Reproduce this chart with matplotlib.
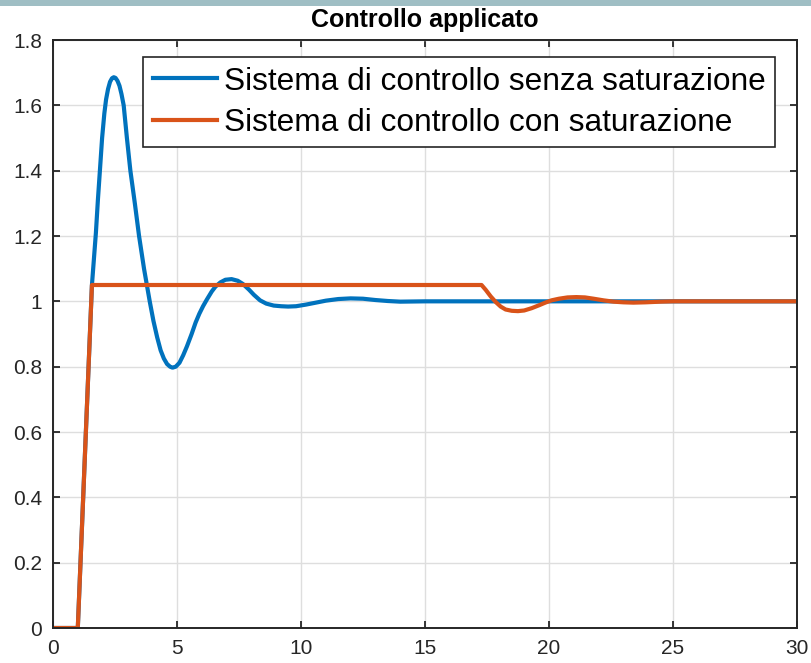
#!/usr/bin/env python3
"""Applied control signal: with vs. without actuator saturation."""

import matplotlib

matplotlib.use("Agg")
import matplotlib.pyplot as plt
from matplotlib.patches import Rectangle

# Values (time in s, control signal)
t_free = [0, 1.0, 1.57, 1.65, 1.73, 1.81, 1.9, 1.98, 2.07, 2.14, 2.22, 2.3,
          2.38, 2.45, 2.52, 2.6, 2.68, 2.76, 2.85, 2.98, 3.12, 3.3, 3.47,
          3.67, 3.9, 4.05, 4.2, 4.34, 4.47, 4.6, 4.72, 4.82, 4.95, 5.1,
          5.25, 5.4, 5.59, 5.75, 5.9, 6.05, 6.2, 6.4, 6.55, 6.75, 6.95, 7.2,
          7.45, 7.66, 7.9, 8.1, 8.35, 8.6, 8.9, 9.2, 9.48, 9.8, 10.2, 10.6,
          11.0, 11.5, 12.0, 12.5, 13.0, 13.5, 14.0, 15.0, 17.0, 20.0, 30.0]
u_free = [0, 0, 1.05, 1.13, 1.21, 1.31, 1.41, 1.5, 1.575, 1.618, 1.65,
          1.672, 1.683, 1.686, 1.684, 1.675, 1.66, 1.635, 1.6, 1.5, 1.4,
          1.3, 1.2, 1.1, 1.0, 0.94, 0.89, 0.85, 0.825, 0.808, 0.8, 0.797,
          0.8, 0.812, 0.835, 0.862, 0.9, 0.935, 0.962, 0.985, 1.005, 1.03,
          1.045, 1.058, 1.066, 1.068, 1.063, 1.053, 1.036, 1.02, 1.003,
          0.993, 0.987, 0.985, 0.984, 0.985, 0.99, 0.996, 1.002, 1.007,
          1.009, 1.008, 1.004, 1.001, 0.999, 1.0, 1.0, 1.0, 1.0]

t_sat = [0, 1.0, 1.57, 17.28, 17.45, 17.65, 17.85, 18.05, 18.25, 18.5,
         18.75, 19.0, 19.3, 19.6, 19.85, 20.1, 20.4, 20.75, 21.1, 21.45,
         21.8, 22.2, 22.6, 23.0, 23.4, 23.9, 24.5, 25.0, 30.0]
u_sat = [0, 0, 1.05, 1.05, 1.035, 1.015, 0.998, 0.984, 0.975, 0.971,
         0.970, 0.972, 0.979, 0.988, 0.996, 1.003, 1.008, 1.012, 1.013,
         1.012, 1.008, 1.003, 0.999, 0.997, 0.996, 0.997, 0.999, 1.0, 1.0]

labels = ["Sistema di controllo senza saturazione",
          "Sistema di controllo con saturazione"]
x_ticks = [0, 5, 10, 15, 20, 25, 30]
y_ticks = [0, 0.2, 0.4, 0.6, 0.8, 1, 1.2, 1.4, 1.6, 1.8]

BLUE = "#0072BD"
ORANGE = "#D95319"
AXIS = "#262626"

plt.rcParams["font.family"] = ["Liberation Sans", "DejaVu Sans"]

fig = plt.figure(figsize=(8.11, 6.63), dpi=100)
# window strip along the top edge of the screenshot
fig.patches.append(Rectangle((0, 1 - 6 / 663), 1, 6 / 663,
                             transform=fig.transFigure,
                             facecolor="#9fbec4", edgecolor="none"))
ax = fig.add_axes([53 / 811, 35 / 663, 744 / 811, 588 / 663])

ax.plot(t_free, u_free, color=BLUE, linewidth=3, label=labels[0],
        solid_joinstyle="round")
ax.plot(t_sat, u_sat, color=ORANGE, linewidth=3, label=labels[1],
        solid_joinstyle="round")

ax.set_xlim(0, 30)
ax.set_ylim(0, 1.8)
ax.set_xticks(x_ticks)
ax.set_xticklabels([str(v) for v in x_ticks])
ax.set_yticks(y_ticks)
ax.set_yticklabels([f"{v:g}" for v in y_ticks])
ax.grid(True, color="#dedede", linewidth=1)
ax.set_axisbelow(True)
ax.tick_params(direction="in", length=5, width=1.3, colors=AXIS,
               labelsize=15, top=True, right=True, pad=8)
for s in ax.spines.values():
    s.set_color(AXIS)
    s.set_linewidth(1.4)

ax.set_title("Controllo applicato", fontsize=18, fontweight="bold",
             color="black", pad=9)

leg = ax.legend(loc="upper left", bbox_to_anchor=(0.121, 0.971),
                borderaxespad=0, fontsize=22.8, handlelength=2.05,
                handletextpad=0.2, labelspacing=0.36, borderpad=0.3,
                fancybox=False, framealpha=1)
leg.get_frame().set_edgecolor(AXIS)
leg.get_frame().set_linewidth(1.2)

fig.savefig("out.png", dpi=100, facecolor="white")
